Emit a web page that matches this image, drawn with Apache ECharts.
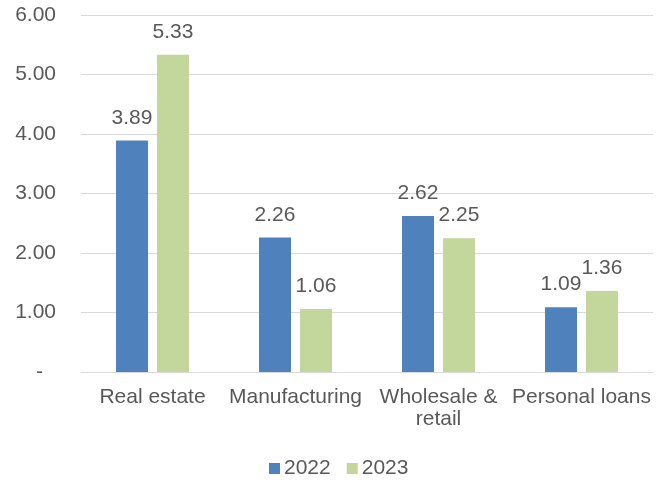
<!DOCTYPE html>
<html>
<head>
<meta charset="utf-8">
<script src="https://cdn.jsdelivr.net/npm/echarts@6/dist/echarts.min.js"></script>
<style>
  html, body { margin: 0; padding: 0; background: #fff; }
  #chart { width: 663px; height: 485px; }
</style>
</head>
<body>
<div id="chart"></div>
<script>
const categories = ['Real estate', 'Manufacturing', 'Wholesale &\nretail', 'Personal loans']
const series2022 = [3.89, 2.26, 2.62, 1.09]
const series2023 = [5.33, 1.06, 2.25, 1.36]
const seriesNames = ['2022', '2023']

const textColor = '#595959'
const font = 'Liberation Sans, Arial, sans-serif'
const fs = 21

const chart = echarts.init(document.getElementById('chart'))

function barLabel() {
  return {
    show: true,
    position: 'top',
    distance: 12,
    color: textColor,
    fontSize: fs,
    fontFamily: font,
    formatter: p => p.value.toFixed(2),
  }
}

chart.setOption({
  animation: false,
  textStyle: { fontFamily: font },
  grid: { left: 81, right: 10, top: 15, bottom: 113 },
  legend: {
    top: 458,
    left: 269,
    icon: 'rect',
    itemWidth: 11,
    itemHeight: 11,
    itemGap: 16,
    padding: 0,
    textStyle: { color: textColor, fontSize: fs, fontFamily: font, padding: [0, 0, 0, -1] },
    data: seriesNames,
  },
  xAxis: {
    type: 'category',
    data: categories,
    axisLine: { lineStyle: { color: '#d9d9d9', width: 1 } },
    axisTick: { show: false },
    axisLabel: { color: textColor, fontSize: fs, fontFamily: font, margin: 14, lineHeight: 22, interval: 0 },
  },
  yAxis: {
    type: 'value',
    min: 0,
    max: 6,
    interval: 1,
    axisLine: { show: false },
    axisTick: { show: false },
    splitLine: { lineStyle: { color: '#d9d9d9', width: 1 } },
    axisLabel: {
      color: textColor,
      fontSize: fs,
      fontFamily: font,
      margin: 25,
      formatter: v => v === 0 ? '{d|-}' : v.toFixed(2),
      rich: { d: { color: textColor, fontSize: fs, fontFamily: font, padding: [0, 13, 0, 0] } },
    },
  },
  series: [
    {
      name: seriesNames[0],
      type: 'bar',
      data: series2022,
      barWidth: 32,
      barGap: '28%',
      itemStyle: { color: '#4F81BD' },
      label: barLabel(),
    },
    {
      name: seriesNames[1],
      type: 'bar',
      data: series2023,
      barWidth: 32,
      itemStyle: { color: '#C3D69B' },
      label: barLabel(),
    },
  ],
})
</script>
</body>
</html>
